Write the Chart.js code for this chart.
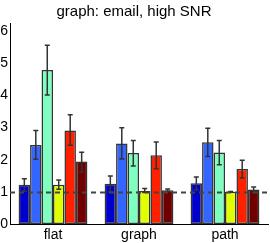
<!DOCTYPE html>
<html>
<head>
<meta charset="utf-8">
<script src="https://cdn.jsdelivr.net/npm/chart.js@4"></script>
<style>
  html, body { margin: 0; padding: 0; background: #fff; }
  #wrap { width: 270px; height: 243px; }
</style>
</head>
<body>
<div id="wrap"><canvas id="grafico" width="270" height="243"></canvas></div>
<script>
// categorias y series
const categorias = ["flat", "graph", "path"];

const serieAzulOscuro = [1.22, 1.25, 1.27];
const serieAzul = [2.46, 2.50, 2.54];
const serieAguamarina = [4.79, 2.21, 2.22];
const serieAmarilla = [1.22, 1.03, 1.00];
const serieRoja = [2.91, 2.14, 1.71];
const serieGranate = [1.94, 1.05, 1.07];

// limites de las barras de error
const bajoAzulOscuro = [1.03, 1.00, 1.06];
const altoAzulOscuro = [1.41, 1.49, 1.46];
const bajoAzul = [2.01, 2.02, 2.10];
const altoAzul = [2.91, 2.99, 2.98];
const bajoAguamarina = [4.01, 1.80, 1.84];
const altoAguamarina = [5.56, 2.60, 2.60];
const bajoAmarilla = [1.08, 0.98, 0.99];
const altoAmarilla = [1.37, 1.10, 1.01];
const bajoRoja = [2.45, 1.72, 1.43];
const altoRoja = [3.40, 2.55, 1.98];
const bajoGranate = [1.62, 1.01, 0.99];
const altoGranate = [2.23, 1.09, 1.15];

const lineaReferencia = 1;
const ticksY = [0, 1, 2, 3, 4, 5, 6];

const series = [
    { data: serieAzulOscuro, bajo: bajoAzulOscuro, alto: altoAzulOscuro, color: "#0000cc" },
    { data: serieAzul, bajo: bajoAzul, alto: altoAzul, color: "#3366ff" },
    { data: serieAguamarina, bajo: bajoAguamarina, alto: altoAguamarina, color: "#7fffbf" },
    { data: serieAmarilla, bajo: bajoAmarilla, alto: altoAmarilla, color: "#e0ff00" },
    { data: serieRoja, bajo: bajoRoja, alto: altoRoja, color: "#ff2000" },
    { data: serieGranate, bajo: bajoGranate, alto: altoGranate, color: "#700000" }
];

const datasets = series.map((s) => ({
    data: s.data,
    backgroundColor: s.color,
    borderColor: "#333333",
    borderWidth: 1.5,
    borderSkipped: false
}));

// barras de error y linea punteada en y = 1
const extras = {
    id: "extras",
    afterDatasetsDraw(chart) {
        const ctx = chart.ctx;
        const y = chart.scales.y;
        ctx.save();
        ctx.strokeStyle = "#333333";
        ctx.lineWidth = 1.5;
        series.forEach((s, i) => {
            const meta = chart.getDatasetMeta(i);
            meta.data.forEach((bar, j) => {
                const x = bar.x;
                const yb = y.getPixelForValue(s.bajo[j]);
                const ya = y.getPixelForValue(s.alto[j]);
                ctx.beginPath();
                ctx.moveTo(x, yb); ctx.lineTo(x, ya);
                ctx.moveTo(x - 2.5, yb); ctx.lineTo(x + 2.5, yb);
                ctx.moveTo(x - 2.5, ya); ctx.lineTo(x + 2.5, ya);
                ctx.stroke();
            });
        });
        const area = chart.chartArea;
        const yr = Math.round(y.getPixelForValue(lineaReferencia)) + 0.5;
        ctx.strokeStyle = "#444444";
        ctx.lineWidth = 2;
        ctx.setLineDash([5, 4]);
        ctx.beginPath();
        ctx.moveTo(area.left, yr);
        ctx.lineTo(area.right, yr);
        ctx.stroke();
        ctx.restore();
    }
};

const config = {
    type: "bar",
    data: { labels: categorias, datasets },
    options: {
        responsive: false,
        animation: false,
        layout: { padding: { right: 2, left: 0, top: 0, bottom: 0 } },
        datasets: { bar: { categoryPercentage: 0.8, barPercentage: 1.0 } },
        plugins: {
            legend: { display: false },
            tooltip: { enabled: false },
            title: {
                display: true,
                text: "graph: email, high SNR",
                color: "#000",
                font: { family: "Liberation Sans", size: 15, weight: "normal" },
                padding: { top: 3, bottom: 2 }
            }
        },
        scales: {
            x: {
                grid: { display: false, drawTicks: false },
                border: { display: true, color: "#000", width: 1 },
                ticks: {
                    color: "#000",
                    font: { family: "Liberation Sans", size: 14 },
                    padding: 3
                },
                afterFit: (scale) => { scale.height = 19; }
            },
            y: {
                min: 0,
                max: 6.25,
                grid: { display: false, drawTicks: false },
                border: { display: true, color: "#000", width: 1 },
                afterBuildTicks: (scale) => {
                    scale.ticks = ticksY.map((v) => ({ value: v }));
                },
                ticks: {
                    color: "#000",
                    font: { family: "Liberation Sans", size: 14 },
                    padding: 2
                },
                afterFit: (scale) => { scale.width = 10; }
            }
        }
    },
    plugins: [extras]
};

const grafico = new Chart(document.getElementById("grafico"), config);
</script>
</body>
</html>
